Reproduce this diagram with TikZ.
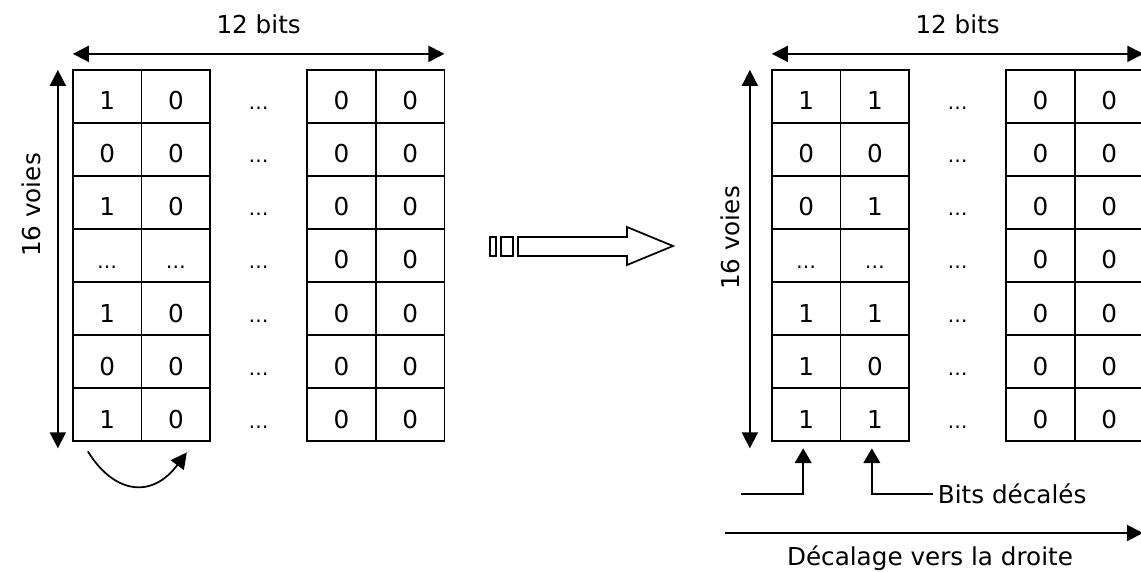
\documentclass[tikz,border=0pt]{standalone}
\usepackage{fontspec}
\setmainfont{DejaVu Sans}
\usetikzlibrary{positioning,calc,matrix,arrows.meta}
\tikzset{px/.style={x=0.75pt,y=-0.75pt, line width=1.3pt}}
\tikzset{cell/.style={draw, minimum width=51.5pt, minimum height=39.8pt, inner sep=0pt, text height=20pt, text depth=0pt, anchor=center}}
\tikzset{gapcell/.style={cell, draw=none, minimum width=74pt}}
\tikzset{tbl/.style={matrix of nodes, anchor=north west, inner sep=0pt, outer sep=0pt, row sep=-1.3pt, column sep=-1.3pt, nodes={cell}, column 3/.style={nodes={gapcell}}}}
\tikzset{arr/.style={draw, -{Triangle[length=12pt,width=12pt]}}}
\tikzset{darr/.style={draw, {Triangle[length=12pt,width=12pt]}-{Triangle[length=12pt,width=12pt]}}}
\tikzset{uarr/.style={draw, -{Triangle[length=11pt,width=12.5pt]}}}
\tikzset{lbl/.style={inner sep=0pt}}
\newcommand{\dts}{{\fontsize{15}{18}\selectfont …}}

\begin{document}
\begin{tikzpicture}[px, font=\fontsize{18.5}{22}\selectfont]
   \useasboundingbox (0,0) rectangle (1141,571);
   \clip (0,0) rectangle (1141,571);
   % before the shift
   \matrix (L) [tbl] at (72,69) {
       1 & 0 & \dts & 0 & 0 \\
       0 & 0 & \dts & 0 & 0 \\
       1 & 0 & \dts & 0 & 0 \\
       \dts & \dts & \dts & 0 & 0 \\
       1 & 0 & \dts & 0 & 0 \\
       0 & 0 & \dts & 0 & 0 \\
       1 & 0 & \dts & 0 & 0 \\
   };
   \draw[darr] ($(L-1-1.north west)+(0,-16)$) -- ($(L-1-5.north east)+(0,-16)$);
   \node[lbl] (lb) at ($(L-1-1.north west)!0.5!(L-1-5.north east)+(0,-46)$) {12 bits};
   \draw[darr] ($(L-1-1.north west)+(-15,0)$) -- ($(L-7-1.south west)+(-15,7)$);
   \node[lbl, rotate=90] (lv) at (31,205) {16 voies};
   \draw[arr] ($(L-7-1.south west)+(15,10)$)
       .. controls +(25,41) and +(-36,48) ..
       ($(L-7-2.south)+(11,11)$);
   % big hollow arrow
   \draw (490,237) rectangle (496,256);
   \draw (501,237) rectangle (513,256);
   \draw (518,237) -- (627,237) -- (627,227) -- (673,246)
       -- (627,265) -- (627,256) -- (518,256) -- cycle;
   % after the shift
   \matrix (R) [tbl] at (771,69) {
       1 & 1 & \dts & 0 & 0 \\
       0 & 0 & \dts & 0 & 0 \\
       0 & 1 & \dts & 0 & 0 \\
       \dts & \dts & \dts & 0 & 0 \\
       1 & 1 & \dts & 0 & 0 \\
       1 & 0 & \dts & 0 & 0 \\
       1 & 1 & \dts & 0 & 0 \\
   };
   \draw[darr] ($(R-1-1.north west)+(0,-16)$) -- ($(R-1-5.north east)+(0,-16)$);
   \node[lbl] (rb) at ($(R-1-1.north west)!0.5!(R-1-5.north east)+(0,-46)$) {12 bits};
   \draw[darr] ($(R-1-1.north west)+(-22,0)$) -- ($(R-7-1.south west)+(-22,7)$);
   \node[lbl, rotate=90] (rv) at (730,238) {16 voies};
   \coordinate (in) at (741,494);
   \node[lbl, anchor=west, inner sep=3pt] (bd) at (933,494) {Bits décalés};
   \draw[uarr] (in) -| ($(R-7-1.south)+(-3,7)$);
   \draw[uarr] (bd.west) -| ($(R-7-2.south)+(-3,7)$);
   \coordinate (s0) at (725,533);
   \coordinate (s1) at (1143,533);
   \draw[arr] (s0) -- (s1);
   \node[lbl] (dd) at (930,558) {Décalage vers la droite};
\end{tikzpicture}
\end{document}
